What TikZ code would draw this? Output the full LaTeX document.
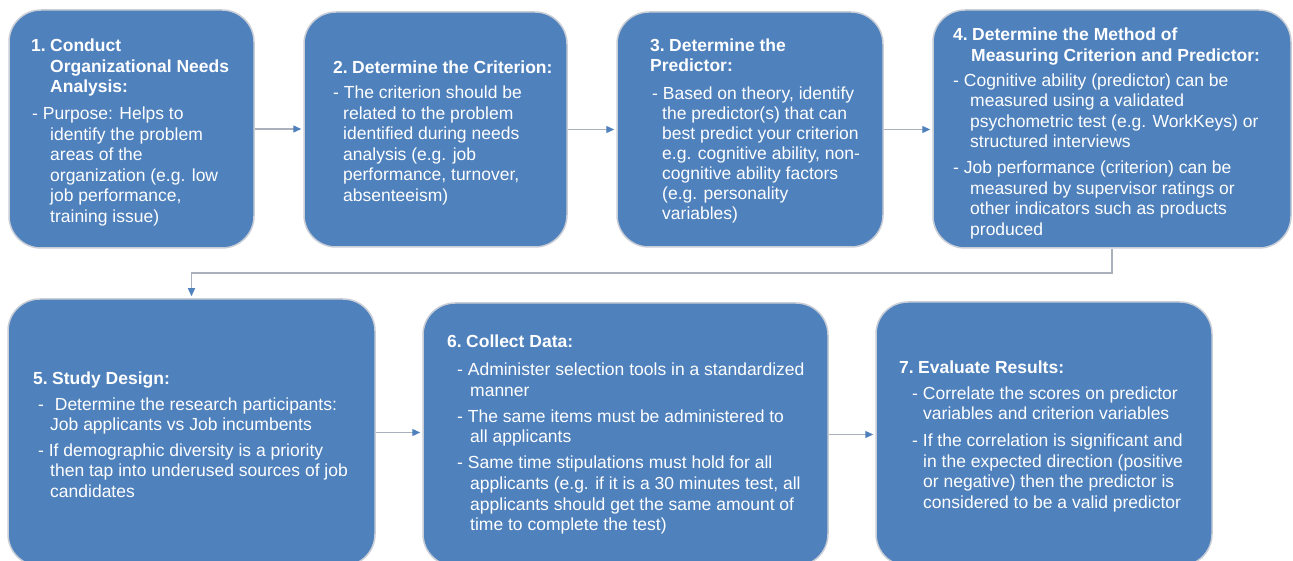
\documentclass[tikz,border=0pt]{standalone}
\usepackage{fontspec}
\setmainfont{Liberation Sans}
\usetikzlibrary{arrows.meta}
\definecolor{boxblue}{RGB}{79,129,189}
\definecolor{boxedge}{RGB}{200,205,214}
\definecolor{linegray}{RGB}{170,176,188}
\newcommand{\Lr}[2]{\hspace*{#1pt}#2}
\begin{document}
\begin{tikzpicture}[x=1pt,y=-1pt,
  box/.style={draw=boxedge, line width=1.5pt, fill=boxblue, rounded corners=32pt, inner sep=0pt},
  txt/.style={anchor=base west, inner sep=0pt, text=white, font=\fontsize{17.5}{20.5}\selectfont},
  conn/.style={draw=linegray, line width=1.3pt, -{Triangle[length=8pt,width=7pt,color=boxblue]}, shorten >=2pt}]
\useasboundingbox (0,0) rectangle (1293,561);

% boxes
\node[box, minimum width=245pt, minimum height=238pt] (b1) at (131.5,129) {};
\node[box, minimum width=263pt, minimum height=235pt] (b2) at (435.5,129.5) {};
\node[box, minimum width=266pt, minimum height=235pt] (b3) at (750,129.5) {};
\node[box, minimum width=358pt, minimum height=238pt] (b4) at (1112,129) {};
\node[box, minimum width=367pt, minimum height=267pt] (b5) at (191.5,432.5) {};
\node[box, minimum width=405pt, minimum height=263pt] (b6) at (625.5,434.5) {};
\node[box, minimum width=336pt, minimum height=264pt] (b7) at (1044,434) {};

% connectors
\draw[conn] (b1.east) -- (b2.west |- b1.east);
\draw[conn] (b2.east) -- (b3.west |- b2.east);
\draw[conn] (b3.east) -- (b4.west |- b3.east);
\coordinate (turn) at (0,273);
\draw[conn] (b4.south) -- (b4.south |- turn) -| (b5.north);
\draw[conn] (b5.east) -- (b6.west |- b5.east);
\draw[conn] (b6.east) -- (b7.west |- b6.east);

% texts
\node[txt] (t1) at (31,52) {\begin{tabular}[t]{@{}l@{}}
\textbf{\makebox[19pt][l]{1.}Conduct}\\
\Lr{19}{\textbf{Organizational Needs}}\\
\Lr{19}{\textbf{Analysis:}}\\[6.5pt]
\Lr{1}{- Purpose: Helps to}\\
\Lr{19}{identify the problem}\\
\Lr{19}{areas of the}\\
\Lr{19}{organization (e.g. low}\\
\Lr{19}{job performance,}\\
\Lr{19}{training issue)}
\end{tabular}};

\node[txt] (t2) at (333,74) {\begin{tabular}[t]{@{}l@{}}
\textbf{\makebox[19pt][l]{2.}Determine the Criterion:}\\[4.5pt]
\Lr{0}{- The criterion should be}\\
\Lr{10}{related to the problem}\\
\Lr{10}{identified during needs}\\
\Lr{10}{analysis (e.g. job}\\
\Lr{10}{performance, turnover,}\\
\Lr{10}{absenteeism)}
\end{tabular}};

\node[txt, font=\fontsize{17.5}{20}\selectfont] (t3) at (650,52) {\begin{tabular}[t]{@{}l@{}}
\textbf{\makebox[19pt][l]{3.}Determine the}\\
\textbf{Predictor:}\\[7.5pt]
\Lr{2}{- Based on theory, identify}\\
\Lr{12}{the predictor(s) that can}\\
\Lr{12}{best predict your criterion}\\
\Lr{12}{e.g. cognitive ability, non-}\\
\Lr{12}{cognitive ability factors}\\
\Lr{12}{(e.g. personality}\\
\Lr{12}{variables)}
\end{tabular}};

\node[txt] (t4) at (953,41) {\begin{tabular}[t]{@{}l@{}}
\textbf{\makebox[19pt][l]{4.}Determine the Method of}\\
\Lr{18}{\textbf{Measuring Criterion and Predictor:}}\\[4.5pt]
\Lr{0}{- Cognitive ability (predictor) can be}\\
\Lr{17}{measured using a validated}\\
\Lr{17}{psychometric test (e.g. WorkKeys) or}\\
\Lr{17}{structured interviews}\\[5.5pt]
\Lr{0}{- Job performance (criterion) can be}\\
\Lr{17}{measured by supervisor ratings or}\\
\Lr{17}{other indicators such as products}\\
\Lr{17}{produced}
\end{tabular}};

\node[txt] (t5) at (33,384) {\begin{tabular}[t]{@{}l@{}}
\textbf{\makebox[19pt][l]{5.}Study Design:}\\[5.5pt]
\Lr{5}{-\hspace*{6pt} Determine the research participants:}\\
\Lr{17}{Job applicants vs Job incumbents}\\[5.5pt]
\Lr{5}{- If demographic diversity is a priority}\\
\Lr{17}{then tap into underused sources of job}\\
\Lr{17}{candidates}
\end{tabular}};

\node[txt] (t6) at (447,348) {\begin{tabular}[t]{@{}l@{}}
\textbf{\makebox[19pt][l]{6.}Collect Data:}\\[7.5pt]
\Lr{10}{- Administer selection tools in a standardized}\\
\Lr{23}{manner}\\[5.5pt]
\Lr{10}{- The same items must be administered to}\\
\Lr{23}{all applicants}\\[5.5pt]
\Lr{10}{- Same time stipulations must hold for all}\\
\Lr{23}{applicants (e.g. if it is a 30 minutes test, all}\\
\Lr{23}{applicants should get the same amount of}\\
\Lr{23}{time to complete the test)}
\end{tabular}};

\node[txt] (t7) at (899,373) {\begin{tabular}[t]{@{}l@{}}
\textbf{\makebox[19pt][l]{7.}Evaluate Results:}\\[5.5pt]
\Lr{13}{- Correlate the scores on predictor}\\
\Lr{24}{variables and criterion variables}\\[6.5pt]
\Lr{13}{- If the correlation is significant and}\\
\Lr{24}{in the expected direction (positive}\\
\Lr{24}{or negative) then the predictor is}\\
\Lr{24}{considered to be a valid predictor}
\end{tabular}};
\end{tikzpicture}
\end{document}
